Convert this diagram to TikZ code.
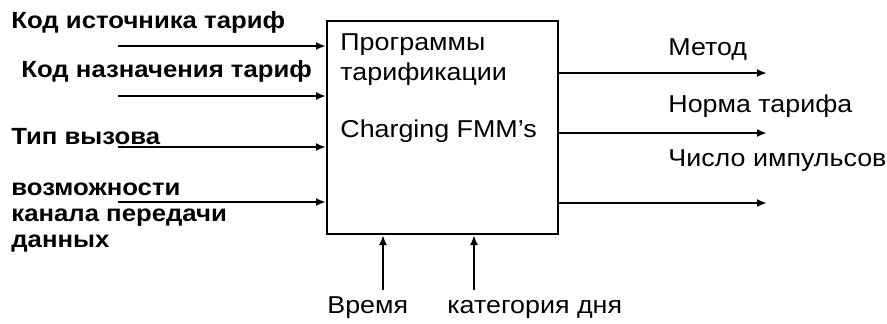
\documentclass[tikz,border=0pt]{standalone}
\usepackage{fontspec}
\setmainfont[FakeStretch=1.1]{Liberation Sans}
\usepackage{tikz}
\usetikzlibrary{arrows.meta,positioning}

\begin{document}
\begin{tikzpicture}[
  x=0.5pt,y=-0.5pt,
  every node/.style={font=\fontsize{12.2}{13.5}\selectfont, inner sep=0pt, anchor=base west},
  inlabel/.style={font=\fontsize{11.7}{13}\selectfont\bfseries},
  flow/.style={line width=1pt, -{Latex[length=5pt,width=4pt]}}
]
\useasboundingbox (0,0) rectangle (887,323);

\node[draw, line width=1pt, minimum width=115.5pt, minimum height=106.5pt, anchor=center] (fmm) at (442.5,127.5) {};
\node[align=left, font=\fontsize{12.2}{15}\selectfont] (fmmtitle) at (340,80) {Программы\\тарификации};
\node (fmmname) at (340,137) {Charging FMM’s};

% inputs
\node[inlabel] (srccode) at (11,28) {Код источника тариф};
\node[inlabel] (dstcode) at (21,77) {Код назначения тариф};
\node[inlabel] (calltype) at (11,144) {Тип вызова};
\node[inlabel, align=left] (chancap) at (11,247) {возможности\\канала передачи\\данных};

\coordinate (in1) at (118,46);
\coordinate (in2) at (118,96);
\coordinate (in3) at (118,147);
\coordinate (in4) at (118,202);
\foreach \i in {1,...,4} {
  \draw[flow] (in\i) -- (in\i -| fmm.west);
}

% outputs
\coordinate (out1) at (767,73);
\coordinate (out2) at (767,133);
\coordinate (out3) at (767,203);
\foreach \i in {1,...,3} {
  \draw[flow] (out\i -| fmm.east) -- (out\i);
}
\node (method) at (668,55) {Метод};
\node (rate) at (668,112) {Норма тарифа};
\node (pulses) at (668,166) {Число импульсов};

% controls
\node (timelbl) at (327,313) {Время};
\node (daycat) at (447,313) {категория дня};
\coordinate (ctl1) at (383,290);
\coordinate (ctl2) at (474,290);
\foreach \i in {1,2} {
  \draw[flow] (ctl\i) -- (ctl\i |- fmm.south);
}
\end{tikzpicture}
\end{document}
